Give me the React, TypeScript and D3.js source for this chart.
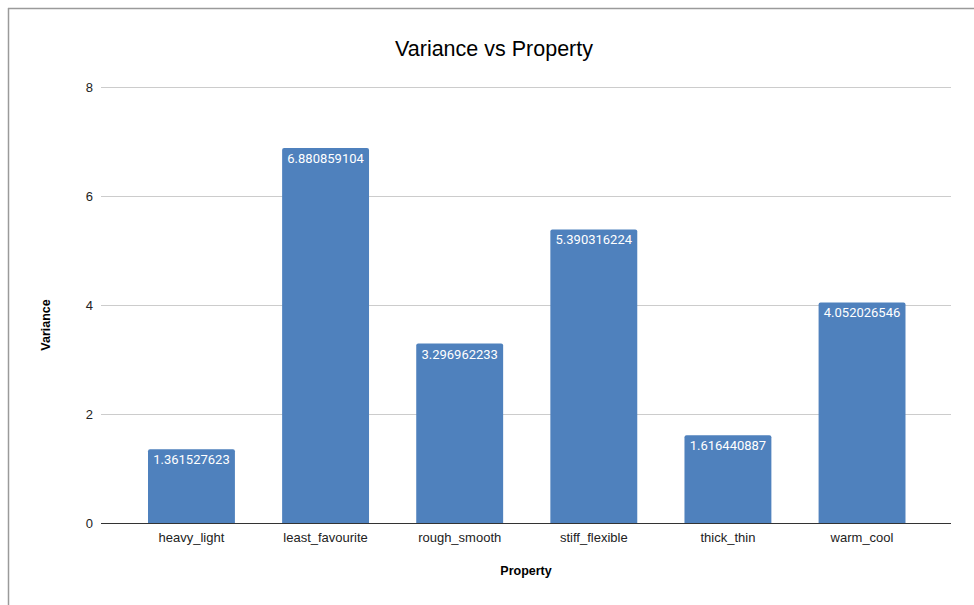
import React from "react";
import * as d3 from "d3";

const categories = ["heavy_light", "least_favourite", "rough_smooth", "stiff_flexible", "thick_thin", "warm_cool"];
const values = [1.361527623, 6.880859104, 3.296962233, 5.390316224, 1.616440887, 4.052026546];
const yTicks = [0, 2, 4, 6, 8];

const W = 974;
const H = 605;

export default function App() {
  const y = d3.scaleLinear().domain([0, 8]).range([523.5, 87]);
  const x = d3.scaleBand<string>().domain(categories).range([124.4, 929.1]).paddingInner(0.352).paddingOuter(0.176);
  const gridX0 = 101;
  const gridX1 = 951;
  const font = "Arial, 'Liberation Sans', sans-serif";
  return (
    <svg width={W} height={H} style={{ position: "absolute", left: 0, top: 0, background: "#fff" }}>
      <line x1={8.5} y1={8} x2={8.5} y2={H} stroke="#9a9a9a" strokeWidth={1.5} />
      <line x1={8} y1={8.5} x2={W} y2={8.5} stroke="#9a9a9a" strokeWidth={1.5} />
      <text x={494} y={56} textAnchor="middle" fontFamily={font} fontSize={21.5} fill="#000">Variance vs Property</text>
      {yTicks.map((t) => (
        <g key={t}>
          {t !== 0 && <line x1={gridX0} x2={gridX1} y1={Math.round(y(t)) + 0.5} y2={Math.round(y(t)) + 0.5} stroke="#cccccc" strokeWidth={1} />}
          <text x={93} y={y(t) + 4.5} textAnchor="end" fontFamily={font} fontSize={13} fill="#222">{t}</text>
        </g>
      ))}
      {categories.map((c, i) => {
        const x0 = x(c)!;
        const bw = x.bandwidth();
        const top = y(values[i]);
        const bottom = y(0);
        const r = 2;
        const path = `M${x0},${bottom}V${top + r}Q${x0},${top} ${x0 + r},${top}H${x0 + bw - r}Q${x0 + bw},${top} ${x0 + bw},${top + r}V${bottom}Z`;
        return (
          <g key={c}>
            <path d={path} fill="#4f81bd" />
            <text x={x0 + bw / 2} y={top + 15} textAnchor="middle" fontFamily="Roboto, sans-serif" fontSize={13} fill="#fff">{values[i].toFixed(9)}</text>
            <text x={x0 + bw / 2} y={542} textAnchor="middle" fontFamily={font} fontSize={13} fill="#222">{c}</text>
          </g>
        );
      })}
      <line x1={gridX0} x2={gridX1} y1={y(0)} y2={y(0)} stroke="#333" strokeWidth={1} />
      <text x={526} y={575} textAnchor="middle" fontFamily={font} fontSize={12.5} fontWeight="bold" fill="#000">Property</text>
      <text transform={`translate(50,325) rotate(-90)`} textAnchor="middle" fontFamily={font} fontSize={12.5} fontWeight="bold" fill="#000">Variance</text>
    </svg>
  );
}
